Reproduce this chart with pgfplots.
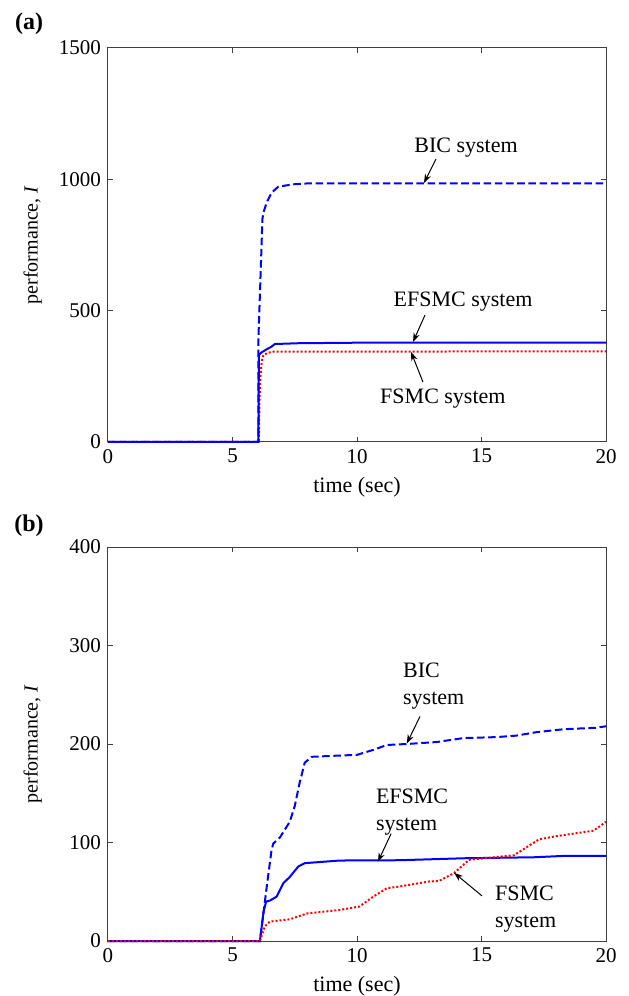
\documentclass[border=0pt]{standalone}
\usepackage{fontspec}
\setmainfont{Liberation Serif}
\usepackage{pgfplots}
\pgfplotsset{compat=1.18}
\usetikzlibrary{arrows.meta}

\definecolor{mblue}{RGB}{0,0,255}
\definecolor{mred}{RGB}{255,0,0}

\tikzset{
  note/.style={font=\fontsize{11}{13.5}\selectfont},
  arr/.style={-{Stealth[length=4.5pt,width=3.2pt]}, line width=0.5pt, black},
}
\pgfplotsset{
  mlab/.style={
    width=249pt, height=197pt, scale only axis,
    anchor=south west,
    xmin=0, xmax=20, xtick={0,5,10,15,20},
    tick align=inside, major tick length=2.5pt,
    axis line style={black!75, line width=0.5pt},
    every tick/.style={black!75, line width=0.5pt},
    tick label style={font=\fontsize{10.5}{12}\selectfont},
    /pgf/number format/assume math mode=true,
    /pgf/number format/1000 sep={},
    label style={font=\fontsize{11}{13}\selectfont},
    xlabel={time (sec)},
    ylabel={performance, \textit{I}},
    every axis y label/.style={at={(axis description cs:-0.151,0.5)}, rotate=90, anchor=center},
    clip=false,
  },
  bic/.style={mblue, line width=1pt, dash pattern=on 3.8pt off 1.8pt},
  efs/.style={mblue, line width=1pt},
  fsm/.style={mred, line width=1pt, dash pattern=on 1pt off 1pt},
}

\begin{document}
\begin{tikzpicture}
\useasboundingbox (0pt,0pt) rectangle (314pt,498pt);

\node[font=\fontsize{12}{14}\selectfont\bfseries] at (14.5pt,486pt) {(a)};
\node[font=\fontsize{12}{14}\selectfont\bfseries] at (14.5pt,235pt) {(b)};

% (a)
\begin{axis}[mlab, at={(54pt,277pt)}, ymin=0, ymax=1500, ytick={0,500,1000,1500}]
\addplot[fsm] coordinates {(0,0)(6.06,0)(6.08,150)(6.12,248)(6.18,312)(6.24,331)(6.44,340)(6.64,344)(20,345)};
\addplot[bic] coordinates {(0,0)(6.04,0)(6.04,391)(6.15,700)(6.2,848)(6.24,873)(6.37,911)(6.57,949)(6.84,972)(7.44,981)(8.1,985)(20,985)};
\addplot[efs] coordinates {(0,0)(6.04,0)(6.06,331)(6.15,340)(6.37,353)(6.57,363)(6.7,373)(7.64,376)(10,378)(20,378)};
\node[note] at (axis cs:14.38,1119) {BIC system};
\draw[arr] (axis cs:13.17,1077) -- (axis cs:12.69,986);
\node[note] at (axis cs:14.26,533) {EFSMC system};
\draw[arr] (axis cs:12.73,483) -- (axis cs:12.25,381);
\node[note] at (axis cs:13.45,167) {FSMC system};
\draw[arr] (axis cs:12.65,228) -- (axis cs:12.17,343);
\end{axis}

% (b)
\begin{axis}[mlab, at={(54pt,27.5pt)}, ymin=0, ymax=400, ytick={0,100,200,300,400}]
\addplot[efs] coordinates {(0,0)(6.1,0)(6.25,30)(6.35,40)(6.5,41)(6.77,45)(7.04,58.7)(7.3,65)(7.64,75.6)(7.9,79)(9.3,81.7)(11.7,82)(14.3,84)(17.1,85)(18.4,86.5)(20,86.5)};
\addplot[bic] coordinates {(0,0)(6.1,0)(6.2,20)(6.4,60)(6.57,92.6)(6.64,99)(6.9,105)(7.3,121)(7.5,137)(7.7,161)(7.9,181)(8.18,187)(9.05,188)(10.0,189)(10.65,194)(11.2,199)(12.0,200)(13.2,202)(14.27,206)(15.6,207)(16.4,208.5)(17.2,212)(18.3,215)(19.6,216.5)(20,218)};
\addplot[fsm] coordinates {(0,0)(6.1,0)(6.3,15)(6.5,19.7)(7.3,22)(8.0,28)(9.3,31.5)(10.1,35)(10.65,45)(11.2,53.6)(11.7,55.3)(12.9,60.4)(13.3,61)(13.9,69)(14.5,82.4)(15.5,85)(16.3,87)(16.8,95)(17.3,103)(17.9,106)(19.5,112)(20,121)};
\node[note, align=left, anchor=west] at (axis cs:11.57,259) {BIC\\system};
\draw[arr] (axis cs:12.53,228) -- (axis cs:12.0,200.5);
\node[note, align=left, anchor=west] at (axis cs:10.48,131) {EFSMC\\system};
\draw[arr] (axis cs:11.37,109) -- (axis cs:10.84,80.4);
\node[note, align=left, anchor=west] at (axis cs:15.26,32) {FSMC\\system};
\draw[arr] (axis cs:15.02,45.8) -- (axis cs:13.9,69.2);
\end{axis}
\end{tikzpicture}
\end{document}
